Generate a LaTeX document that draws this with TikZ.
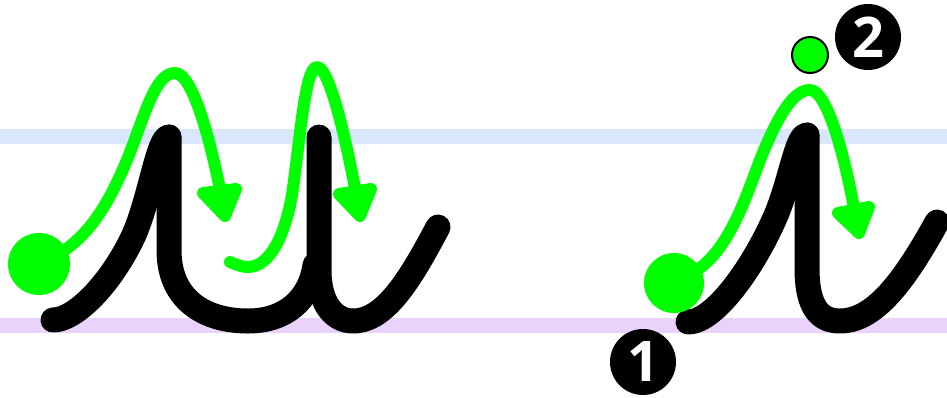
\documentclass[tikz,border=0pt]{standalone}
\usepackage{fontspec}
\newfontfamily\numfont{Open Sans}
\definecolor{bandblue}{RGB}{218,230,252}
\definecolor{bandpurple}{RGB}{234,211,250}
\definecolor{pengreen}{RGB}{0,255,0}
\tikzset{
  ink/.style={draw=black,line width=25pt,line cap=round,line join=round},
  guide/.style={draw=pengreen,line width=12pt,line cap=round,line join=round},
  headtip/.style={fill=pengreen,draw=pengreen,line width=12pt,line join=round},
  startdot/.style={fill=pengreen},
  numcircle/.style={circle,fill=black,text=white,minimum size=66pt,inner sep=0pt,font=\numfont\bfseries\fontsize{56}{56}\selectfont}
}
\begin{document}
\begin{tikzpicture}[x=1pt,y=-1pt]
\useasboundingbox (0,0) rectangle (947,397);
% guide bands
\fill[bandblue] (0,129) rectangle (947,144);
\fill[bandpurple] (0,318) rectangle (947,333);
% left letter (black)
\draw[ink] (53,320) .. controls (75,320) and (110,285) .. (133,237) .. controls (150,200) and (158,137) .. (169,137);
\draw[ink] (169,137) -- (169,250) .. controls (169,300) and (205,321) .. (248,321) .. controls (285,321) and (310,300) .. (315,265);
\draw[ink] (319,137) -- (319,270) .. controls (319,305) and (335,321) .. (353,321) .. controls (385,321) and (410,280) .. (438,227);
% left letter (green guides)
\fill[startdot] (39,264) circle (31);
\draw[guide] (62,252) .. controls (95,230) and (112,195) .. (127,160) .. controls (145,115) and (155,73) .. (175,73) .. controls (195,73) and (215,160) .. (224,210);
\filldraw[headtip] (203,193) -- (225,216) -- (236,189) -- cycle;
\draw[guide] (230,262) .. controls (237,265) and (242,267) .. (248,267) .. controls (270,267) and (285,235) .. (292,195) .. controls (300,140) and (305,67) .. (317,67) .. controls (332,67) and (352,170) .. (359,210);
\filldraw[headtip] (339,194) -- (360,216) -- (371,189) -- cycle;
% right letter (black)
\draw[ink] (688,322) .. controls (715,322) and (755,265) .. (777,213) .. controls (792,175) and (797,135) .. (807,135);
\draw[ink] (807,135) -- (807,268) .. controls (807,308) and (820,321) .. (840,321) .. controls (875,321) and (905,280) .. (937,222);
% right letter (green guides)
\fill[startdot] (674,283) circle (30);
\draw[guide] (700,268) .. controls (730,245) and (745,200) .. (760,160) .. controls (780,110) and (795,90) .. (810,90) .. controls (830,90) and (850,180) .. (857,226);
\filldraw[headtip] (838,213) -- (859,233) -- (869,207) -- cycle;
\filldraw[fill=pengreen,draw=black,line width=2pt] (810,55) circle (18);
% step numbers
\node[numcircle] (n2) at (868,37) {2};
\node[numcircle] (n1) at (643,362) {1};
\end{tikzpicture}
\end{document}
